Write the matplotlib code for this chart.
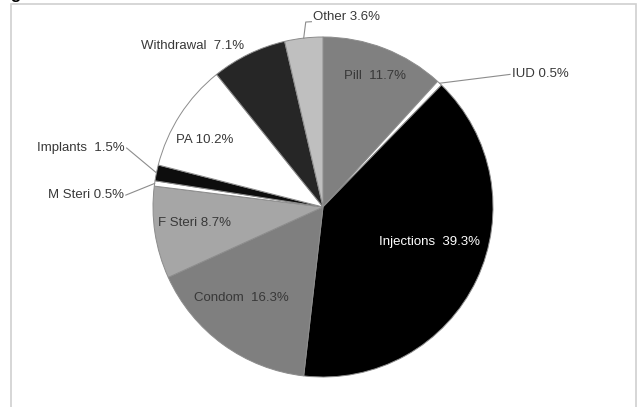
import numpy as np
import matplotlib
matplotlib.use('Agg')
import matplotlib.pyplot as plt
from matplotlib.patches import Rectangle

plt.rcParams['font.family'] = ['Liberation Sans', 'DejaVu Sans']

# Metodos e percentuais (sentido horario a partir das 12h)
metodos = ['Pill', 'IUD', 'Injections', 'Condom', 'F Steri', 'M Steri',
           'Implants', 'PA', 'Withdrawal', 'Other']
percentuais = [11.7, 0.5, 39.3, 16.3, 8.7, 0.5, 1.5, 10.2, 7.1, 3.6]
rotulos = ['Pill  11.7%', 'IUD 0.5%', 'Injections  39.3%', 'Condom  16.3%',
           'F Steri 8.7%', 'M Steri 0.5%', 'Implants  1.5%', 'PA 10.2%',
           'Withdrawal  7.1%', 'Other 3.6%']

cores = ['#808080', '#ffffff', '#000000', '#7f7f7f', '#a6a6a6', '#ffffff',
         '#0d0d0d', '#ffffff', '#262626', '#bfbfbf']

W, H = 641, 407
cx, cy, R = 323, 207, 170  # centro e raio em pixels

fig = plt.figure(figsize=(W / 100, H / 100), dpi=100)
ax = fig.add_axes([0, 0, 1, 1])

wedges, _ = ax.pie(percentuais, colors=cores, startangle=90, counterclock=False,
                   radius=1, normalize=True,
                   wedgeprops=dict(edgecolor='#8c8c8c', linewidth=0.7))
# pie() redefine os limites, entao ajusto depois
ax.set_xlim(-cx / R, (W - cx) / R)
ax.set_ylim(-(H - cy) / R, cy / R)
ax.axis('off')

# rotulos dentro das fatias: (raio, angulo)
dentro = {'Pill': (0.83, 68.5), 'Injections': (0.66, -18), 'Condom': (0.72, -132),
          'F Steri': (0.76, -173), 'PA': (0.80, 150.6), 'Withdrawal': (1.22, 129)}
# rotulos fora com linha guia: (x, y, ha)
fora = {'IUD': (1.11, 0.78, 'left'), 'Implants': (-1.165, 0.347, 'right'),
        'M Steri': (-1.17, 0.07, 'right'), 'Other': (-0.06, 1.115, 'left')}

cor_texto = '#383838'
for w, m, rot in zip(wedges, metodos, rotulos):
    mid = np.deg2rad((w.theta1 + w.theta2) / 2)
    if m in dentro:
        r, a = dentro[m]
        a = np.deg2rad(a)
        c = 'white' if m == 'Injections' else cor_texto
        ax.text(r * np.cos(a), r * np.sin(a), rot, ha='center', va='center',
                fontsize=9.5, color=c)
    else:
        x, y, ha = fora[m]
        ex, ey = np.cos(mid), np.sin(mid)
        if m == 'Other':
            ax.plot([ex, ex + 0.012, x - 0.008], [ey, 1.088, 1.09], color='#8c8c8c', lw=0.8)
        else:
            dx = -0.01 if ha == 'left' else 0.01
            ax.plot([ex, x + dx], [ey, y], color='#8c8c8c', lw=0.8)
        ax.text(x, y, rot, ha=ha, va='center', fontsize=9.5, color=cor_texto)

# moldura do grafico (cortada embaixo)
fig.patches.append(Rectangle((10.5 / W, -0.05), 625.5 / W, 1.05 - 3.5 / H,
                             transform=fig.transFigure, fill=False,
                             edgecolor='#d0d0d0', linewidth=1.2))
# fragmento do titulo cortado no topo
fig.text(10 / W, 1 + 1.5 / H, 'g', fontsize=12, fontweight='bold', color='black',
         ha='left', va='baseline')

fig.savefig('out.png', dpi=100, facecolor='white')
